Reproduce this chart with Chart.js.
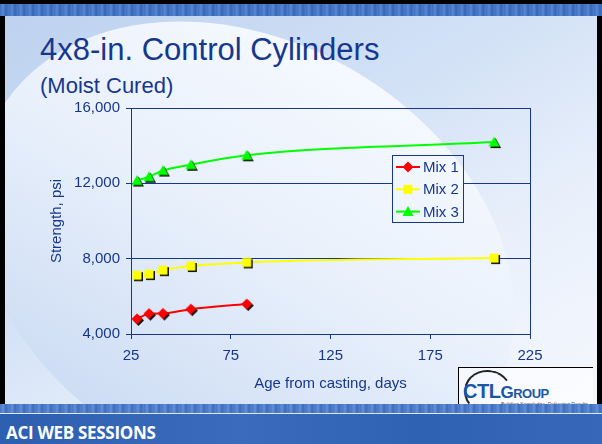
<!DOCTYPE html>
<html>
<head>
<meta charset="utf-8">
<script src="https://cdn.jsdelivr.net/npm/chart.js@4.4.1/dist/chart.umd.min.js"></script>
<style>
html,body{margin:0;padding:0;width:602px;height:444px;overflow:hidden;background:#000;}
#slide{position:absolute;left:5px;top:16px;width:592px;height:390px;overflow:hidden;
  background:linear-gradient(150deg,#bdd2ef 0%,#d2e1f6 40%,#e9f0fb 70%,#f4f8fe 100%);}
#blob{position:absolute;left:-45px;top:25px;width:570px;height:430px;border-radius:50%;
  transform:rotate(30deg);
  background:linear-gradient(to bottom,#f5f9ff 0%,#e8f0fb 45%,#cddcf4 100%);}
#topstrip{position:absolute;left:0;top:4px;width:602px;height:12px;
  background:repeating-linear-gradient(90deg,#3d6fc0 0px,#5a88d2 3px,#3465b8 6px,#4d7dcc 9px);}
#topblack{position:absolute;left:0;top:0;width:602px;height:4px;background:#000;}
#botstrip{position:absolute;left:0;top:404px;width:602px;height:9px;
  background:repeating-linear-gradient(90deg,#4475c4 0px,#6690d6 3px,#3b6cbd 6px,#5583cf 9px);}
#botline{position:absolute;left:0;top:413px;width:602px;height:1px;background:#dfe8f6;}
#botbar{position:absolute;left:0;top:414px;width:602px;height:30px;
  background:linear-gradient(90deg,#2d5fb0 0%,#3a6bbd 40%,#2f62b3 70%,#3767b8 100%);}
#aci{position:absolute;left:6px;top:421px;color:#fff;font:bold 17px "Open Sans",sans-serif;letter-spacing:-0.3px;}
#title{position:absolute;left:40px;top:32px;color:#17378f;font:31px "Liberation Sans",Arial,sans-serif;white-space:nowrap;}
#subtitle{position:absolute;left:40px;top:73px;color:#17378f;font:22px "Liberation Sans",Arial,sans-serif;white-space:nowrap;}
#logo{position:absolute;left:458px;top:367px;width:134px;height:43px;border-top:1px solid #000;border-left:1px solid #000;
  background:rgba(255,255,255,0.6);overflow:hidden;}
#swoosh{position:absolute;left:5px;top:2px;width:44px;height:40px;border-radius:50%;border-top:2px solid #222;border-left:2px solid #222;transform:rotate(10deg);border-right:2px solid transparent;border-bottom:2px solid transparent;}
#ctl{position:absolute;left:4px;top:12px;font:bold 20px "Liberation Sans",Arial,sans-serif;color:#1b56a6;white-space:nowrap;letter-spacing:-0.5px;}
#ctl .g{font-size:17px;}
#ctl .r{font-size:13px;}
#tag{position:absolute;left:42px;top:33px;font:5px "Liberation Sans",Arial,sans-serif;color:#555;white-space:nowrap;}
canvas{position:absolute;left:0;top:0;}
</style>
</head>
<body>
<div id="topblack"></div>
<div id="topstrip"></div>
<div id="slide"><div id="blob"></div></div>
<div id="title">4x8-in. Control Cylinders</div>
<div id="subtitle">(Moist Cured)</div>
<div id="logo"><div id="swoosh"></div><div id="ctl">CTL<span class="g">G</span><span class="r">ROUP</span></div><div id="tag">Building Knowledge. Delivering Results.</div></div>
<div id="botstrip"></div>
<div id="botline"></div>
<div id="botbar"></div>
<div id="aci">ACI WEB SESSIONS</div>
<canvas id="c" width="602" height="444"></canvas>
<script>
// ---- data ----
const days = [28, 34, 41, 55, 83, 207];
const mix1 = [4800, 5080, 5090, 5320, 5590];
const mix2 = [7120, 7180, 7390, 7610, 7800, 8030];
const mix3 = [12150, 12350, 12680, 12990, 13490, 14190];
const seriesNames = ['Mix 1', 'Mix 2', 'Mix 3'];
const xTicks = [25, 75, 125, 175, 225];
const yTicks = [4000, 8000, 12000, 16000];

const NAVY = '#17378f';
const FONT = '"Liberation Sans", Arial, sans-serif';

function drawShape(ctx, kind, cx, cy, color) {
  ctx.fillStyle = color;
  ctx.beginPath();
  if (kind === 'diamond') {
    ctx.moveTo(cx, cy - 5.5); ctx.lineTo(cx + 5.5, cy); ctx.lineTo(cx, cy + 5.5); ctx.lineTo(cx - 5.5, cy);
  } else if (kind === 'square') {
    ctx.rect(cx - 4.5, cy - 4.5, 9, 9);
  } else {
    ctx.moveTo(cx, cy - 5.5); ctx.lineTo(cx + 5.5, cy + 4.5); ctx.lineTo(cx - 5.5, cy + 4.5);
  }
  ctx.closePath();
  ctx.fill();
}
function markerImage(kind, color) {
  const c = document.createElement('canvas');
  c.width = 18; c.height = 18;
  const ctx = c.getContext('2d');
  drawShape(ctx, kind, 10.5, 10.5, '#111');
  drawShape(ctx, kind, 9, 9, color);
  return c;
}
const kinds = ['diamond', 'square', 'triangle'];
const colors = ['#ff0000', '#ffff00', '#00ff00'];

function pts(vals) { return vals.map((v, i) => ({ x: days[i], y: v })); }
const datasets = [mix1, mix2, mix3].map((vals, i) => ({
  label: seriesNames[i],
  data: pts(vals),
  borderColor: colors[i],
  backgroundColor: colors[i],
  borderWidth: 2,
  showLine: true,
  cubicInterpolationMode: 'monotone',
  pointStyle: markerImage(kinds[i], colors[i]),
  pointRadius: 6,
  pointHoverRadius: 6
}));

const frame = {
  id: 'frame',
  afterDraw(chart) {
    const { ctx, chartArea: a } = chart;
    ctx.save();
    ctx.strokeStyle = NAVY; ctx.lineWidth = 1;
    ctx.strokeRect(Math.round(a.left) + 0.5, Math.round(a.top) + 0.5, Math.round(a.right - a.left), Math.round(a.bottom - a.top));
    // legend box
    const bx = 392, by = 155, bw = 71, bh = 67;
    ctx.globalCompositeOperation = 'destination-out';
    ctx.fillStyle = '#000';
    ctx.fillRect(bx, by, bw, bh);
    ctx.globalCompositeOperation = 'source-over';
    ctx.strokeStyle = NAVY;
    ctx.strokeRect(bx + 0.5, by + 0.5, bw, bh);
    chart.data.datasets.forEach((ds, i) => {
      const y = 167 + i * 22.3;
      ctx.strokeStyle = ds.borderColor; ctx.lineWidth = 2;
      ctx.beginPath(); ctx.moveTo(396, y); ctx.lineTo(420, y); ctx.stroke();
      drawShape(ctx, kinds[i], 408, y, ds.borderColor);
      ctx.fillStyle = NAVY;
      ctx.font = '15px ' + FONT;
      ctx.textBaseline = 'middle';
      ctx.fillText(ds.label, 423, y + 1);
    });
    ctx.restore();
  }
};

new Chart(document.getElementById('c'), {
  type: 'scatter',
  data: { datasets },
  options: {
    responsive: false,
    animation: false,
    devicePixelRatio: 1,
    layout: { padding: { top: 108, right: 72, bottom: 50, left: 40 } },
    plugins: { legend: { display: false }, tooltip: { enabled: false } },
    scales: {
      x: {
        type: 'linear', min: 25, max: 225,
        afterBuildTicks: s => { s.ticks = xTicks.map(v => ({ value: v })); },
        afterFit: s => { s.height = 60; },
        grid: { drawOnChartArea: false, drawTicks: true, tickLength: 5, color: NAVY },
        border: { color: NAVY, width: 1 },
        ticks: { color: NAVY, font: { family: FONT, size: 15 }, padding: 8 },
        title: { display: true, text: 'Age from casting, days', color: NAVY, font: { family: FONT, size: 15 }, padding: { top: 0, bottom: 1 } }
      },
      y: {
        type: 'linear', min: 4000, max: 16000,
        afterBuildTicks: s => { s.ticks = yTicks.map(v => ({ value: v })); },
        afterFit: s => { s.width = 91; },
        grid: { drawOnChartArea: true, drawTicks: true, tickLength: 5, color: NAVY },
        border: { color: NAVY, width: 1 },
        ticks: { color: NAVY, font: { family: FONT, size: 15 }, padding: 6,
          callback: v => v.toLocaleString('en-US') },
        title: { display: true, text: 'Strength, psi', color: NAVY, font: { family: FONT, size: 15 }, padding: { top: 8, bottom: 0 } }
      }
    }
  },
  plugins: [frame]
});
</script>
</body>
</html>
